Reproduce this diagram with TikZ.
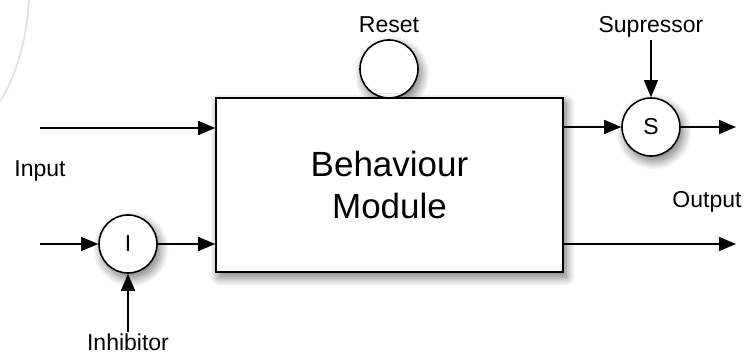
\documentclass[tikz,border=0pt]{standalone}
\usepackage{fontspec}
\setmainfont{Liberation Sans}
\usetikzlibrary{arrows.meta,shadows.blur}

\tikzset{
  wire/.style={line width=1.6pt, -{Triangle[length=17pt,width=14pt]}},
  soft shadow/.style={blur shadow={shadow xshift=3pt, shadow yshift=-5pt,
      shadow blur radius=9pt, shadow blur steps=14, shadow opacity=55}},
  module/.style={draw, line width=1.6pt, fill=white, rectangle,
      minimum width=347pt, minimum height=174pt, inner sep=0pt, soft shadow,
      align=center, font=\fontsize{35}{42}\selectfont},
  gate/.style={draw, line width=1.6pt, fill=white, circle, minimum size=58pt,
      inner sep=0pt, soft shadow, font=\fontsize{23}{27}\selectfont},
  label/.style={anchor=base, inner sep=0pt, font=\fontsize{23}{27}\selectfont},
}

\begin{document}
\begin{tikzpicture}[x=1pt, y=-1pt]
  \useasboundingbox (0,0) rectangle (748,355);

  % faint seal outline in the corner
  \draw[line width=1.8pt, color={rgb,255:red,222;green,222;blue,245}]
    (29,0) .. controls (27,40) and (16,75) .. (0,102);

  % reset gate first, so the block's top edge lies over its shadow
  \node[gate] (reset) at (389,69) {};
  \node[module] (mod) at (389.5,185) {Behaviour\\Module};
  \node[gate] (sup) at (651,127) {S};
  \node[gate] (inh) at (128,244) {I};

  % text labels
  \node[label] (lreset) at (389,33) {Reset};
  \node[label] (lsup) at (651,33) {Supressor};
  \node[label] (linput) at (40,177) {Input};
  \node[label] (loutput) at (707,208) {Output};
  \node[label] (linh) at (128,351) {Inhibitor};

  % free ends of the signal lines
  \coordinate (in1) at (40,128);
  \coordinate (in2) at (40,244);
  \coordinate (outS) at (736,127);
  \coordinate (out) at (736,244);
  \coordinate (supsrc) at (651,40);
  \coordinate (inhsrc) at (128,332);

  % inputs
  \draw[wire] (in1) -- (in1 -| mod.west);
  \draw[wire] (in2) -- (inh.west);
  \draw[wire] (inh.east) -- (inh.east -| mod.west);
  \draw[wire] (inhsrc) -- (inh.south);

  % outputs
  \draw[wire] (sup.west -| mod.east) -- (sup.west);
  \draw[wire] (sup.east) -- (outS);
  \draw[wire] (supsrc) -- (sup.north);
  \draw[wire] (out -| mod.east) -- (out);
\end{tikzpicture}
\end{document}
